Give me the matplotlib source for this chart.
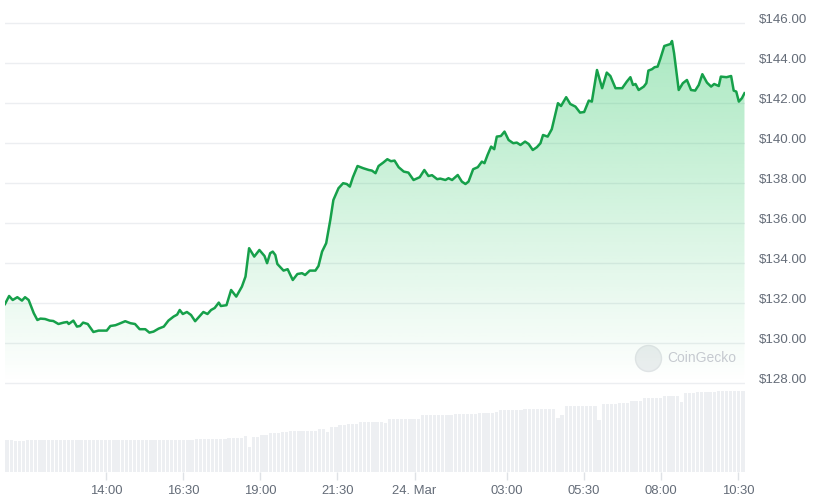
import numpy as np
import matplotlib.pyplot as plt
from matplotlib.transforms import ScaledTranslation
from matplotlib.patches import Ellipse

plt.rcParams['font.family'] = ['Liberation Sans', 'DejaVu Sans']

# minutes since 23 Mar 00:00
price_time = [643, 651, 658, 667, 676, 682, 689, 699, 706, 712,
              721, 730, 737, 747, 757, 764, 767, 776, 783, 789,
              795, 804, 815, 825, 841, 848, 858, 864, 877, 887,
              896, 905, 916, 924, 932, 942, 952, 961, 971, 978,
              983, 989, 997, 1005, 1013, 1022, 1029, 1037, 1044, 1051,
              1059, 1063, 1074, 1083, 1093, 1104, 1111, 1118, 1128, 1138,
              1148, 1153, 1159, 1164, 1169, 1173, 1185, 1193, 1203, 1212,
              1221, 1227, 1236, 1247, 1253, 1260, 1268, 1276, 1282, 1292,
              1301, 1308, 1314, 1320, 1329, 1340, 1351, 1357, 1364, 1370,
              1379, 1387, 1394, 1401, 1409, 1419, 1428, 1438, 1450, 1459,
              1467, 1474, 1484, 1490, 1500, 1506, 1513, 1524, 1532, 1539,
              1545, 1554, 1563, 1571, 1576, 1582, 1589, 1595, 1600, 1608,
              1615, 1623, 1632, 1639, 1646, 1655, 1662, 1670, 1678, 1685,
              1690, 1699, 1707, 1719, 1725, 1735, 1743, 1753, 1762, 1770,
              1779, 1785, 1795, 1805, 1814, 1821, 1831, 1844, 1853, 1860,
              1865, 1870, 1876, 1886, 1891, 1895, 1902, 1907, 1913, 1918,
              1926, 1932, 1938, 1941, 1945, 1954, 1962, 1970, 1978, 1986,
              1993, 2000, 2009, 2017, 2023, 2032, 2036, 2047, 2056, 2061,
              2066, 2071, 2077, 2082]

price = [131.95, 132.35, 132.15, 132.29, 132.12, 132.29, 132.15, 131.49, 131.15, 131.22,
         131.20, 131.12, 131.10, 130.95, 131.02, 131.05, 130.95, 131.12, 130.82, 130.85,
         131.02, 130.95, 130.55, 130.62, 130.62, 130.85, 130.89, 130.95, 131.09, 130.99,
         130.95, 130.69, 130.69, 130.52, 130.57, 130.72, 130.82, 131.12, 131.32, 131.42,
         131.65, 131.45, 131.55, 131.40, 131.09, 131.35, 131.55, 131.45, 131.65, 131.75,
         132.02, 131.85, 131.89, 132.65, 132.32, 132.82, 133.32, 134.74, 134.32, 134.65,
         134.35, 133.99, 134.49, 134.57, 134.40, 133.95, 133.62, 133.69, 133.15, 133.45,
         133.49, 133.40, 133.62, 133.62, 133.85, 134.57, 134.99, 136.15, 137.15, 137.74,
         137.99, 137.95, 137.82, 138.29, 138.85, 138.74, 138.65, 138.62, 138.49, 138.85,
         139.02, 139.19, 139.09, 139.12, 138.79, 138.57, 138.52, 138.15, 138.29, 138.65,
         138.35, 138.39, 138.19, 138.22, 138.15, 138.24, 138.15, 138.40, 138.07, 137.95,
         138.07, 138.69, 138.79, 139.07, 138.99, 139.40, 139.82, 139.69, 140.32, 140.35,
         140.57, 140.15, 139.99, 140.02, 139.90, 140.07, 139.95, 139.65, 139.79, 139.99,
         140.40, 140.32, 140.69, 141.99, 141.85, 142.29, 141.95, 141.82, 141.52, 141.55,
         142.12, 142.07, 143.65, 142.74, 143.52, 143.35, 142.74, 142.74, 143.07, 143.29,
         142.90, 142.95, 142.65, 142.82, 142.99, 143.62, 143.69, 143.79, 143.82, 144.19,
         144.85, 144.90, 144.95, 145.10, 144.49, 142.65, 142.99, 143.15, 142.65, 142.62,
         142.90, 143.44, 143.02, 142.82, 142.95, 142.85, 143.32, 143.29, 143.35, 142.62,
         142.57, 142.07, 142.24, 142.49]

# 24h volume, one bar every 8 minutes (billions USD)
vol_step = 8
vol_bn = [3.2, 3.2, 3.1, 3.1, 3.1, 3.2, 3.2, 3.2, 3.2, 3.2,
          3.2, 3.2, 3.2, 3.2, 3.2, 3.2, 3.2, 3.2, 3.2, 3.2,
          3.2, 3.2, 3.2, 3.2, 3.2, 3.2, 3.2, 3.2, 3.2, 3.2,
          3.2, 3.2, 3.2, 3.2, 3.2, 3.2, 3.2, 3.2, 3.2, 3.2,
          3.2, 3.2, 3.2, 3.2, 3.2, 3.2, 3.3, 3.3, 3.3, 3.3,
          3.3, 3.3, 3.3, 3.3, 3.4, 3.4, 3.4, 3.4, 3.6, 2.5,
          3.55, 3.55, 3.7, 3.7, 3.93, 3.93, 3.93, 4.03, 4.03, 4.1,
          4.1, 4.1, 4.1, 4.1, 4.1, 4.1, 4.27, 4.27, 4.03, 4.47,
          4.47, 4.7, 4.7, 4.8, 4.8, 4.8, 5.03, 5.03, 5.03, 5.03,
          5.03, 5.03, 4.87, 5.27, 5.27, 5.27, 5.27, 5.27, 5.27, 5.27,
          5.27, 5.7, 5.7, 5.7, 5.7, 5.7, 5.7, 5.7, 5.7, 5.8,
          5.8, 5.8, 5.8, 5.8, 5.8, 5.93, 5.93, 5.93, 5.93, 6.03,
          6.2, 6.2, 6.2, 6.2, 6.2, 6.2, 6.3, 6.3, 6.3, 6.3,
          6.3, 6.3, 6.3, 6.3, 5.4, 5.7, 6.6, 6.6, 6.63, 6.63,
          6.63, 6.63, 6.63, 6.63, 5.2, 6.8, 6.8, 6.8, 6.8, 6.93,
          6.93, 6.93, 7.1, 7.1, 7.1, 7.37, 7.37, 7.37, 7.37, 7.37,
          7.6, 7.6, 7.6, 7.6, 7.0, 7.87, 7.87, 7.87, 7.97, 7.97,
          7.97, 7.97, 7.97, 8.07, 8.07, 8.07, 8.13, 8.13, 8.13, 8.13]

tick_minutes = [840, 990, 1140, 1290, 1440, 1620, 1770, 1920, 2070]
tick_labels = ['14:00', '16:30', '19:00', '21:30', '24. Mar', '03:00', '05:30', '08:00', '10:30']
price_ticks = [128, 130, 132, 134, 136, 138, 140, 142, 144, 146]

t0, t1 = 643, 2083
green = '#16a04a'
grey_txt = '#646c78'

fig = plt.figure(figsize=(8.19, 5), dpi=100)
W, H = 819, 500

# volume panel (bottom strip)
vax = fig.add_axes([5 / W, 28 / H, 740 / W, 89 / H])
vol_time = t0 + vol_step / 2 + vol_step * np.arange(len(vol_bn))
vax.bar(vol_time, vol_bn, width=vol_step * 0.78, color='#edeff2', linewidth=0)
vax.set_xlim(t0, t1)
vax.set_ylim(0, 8.9)
vax.axis('off')

# price panel
ax = fig.add_axes([5 / W, 28 / H, 740 / W, 472 / H])
ax.patch.set_visible(False)
ax.set_xlim(t0, t1)
ax.set_ylim(123.55, 147.15)

# gradient fill under the line
fill = ax.fill_between(price_time, price, 127.6, facecolor='none', linewidth=0)
ys = np.linspace(127.6, 147.15, 300)
alpha = np.clip(0.4 * (ys - 128) / 18, 0, 1)
img = np.zeros((len(ys), 1, 4))
img[:, 0, 0] = 0x22 / 255
img[:, 0, 1] = 0xc5 / 255
img[:, 0, 2] = 0x5e / 255
img[:, 0, 3] = alpha
im = ax.imshow(img, extent=[t0, t1, 127.6, 147.15], origin='lower', aspect='auto', zorder=1)
im.set_clip_path(fill.get_paths()[0], transform=ax.transData)

ax.plot(price_time, price, color=green, lw=1.8, zorder=3, solid_joinstyle='round')
ax.set_xlim(t0, t1)
ax.set_ylim(123.55, 147.15)

for s in ax.spines.values():
    s.set_visible(False)
ax.set_yticks(price_ticks)
ax.yaxis.set_major_formatter(plt.FuncFormatter(lambda v, p: r'\$%.2f' % v))
ax.yaxis.tick_right()
ax.tick_params(axis='y', length=0, pad=10, labelsize=9.6, labelcolor=grey_txt)
ax.grid(axis='y', color='#eceef1', lw=1)
ax.set_axisbelow(True)
off = ScaledTranslation(0, 0.04, fig.dpi_scale_trans)
for lab in ax.get_yticklabels():
    lab.set_transform(lab.get_transform() + off)

ax.set_xticks(tick_minutes)
ax.set_xticklabels(tick_labels)
ax.tick_params(axis='x', length=6, width=1, color='#dfe2e6', pad=3, labelsize=9.4, labelcolor=grey_txt)

# watermark
fig.add_artist(Ellipse((648.5 / W, 1 - 358.5 / H), 26 / W, 26 / H, transform=fig.transFigure,
                       facecolor='#eceef0', edgecolor='#e2e4e7', lw=1, zorder=0))
fig.text(667 / W, 1 - 358 / H, 'CoinGecko', fontsize=10, color='#c6cad0', va='center', ha='left')

fig.savefig('out.png', dpi=100)
